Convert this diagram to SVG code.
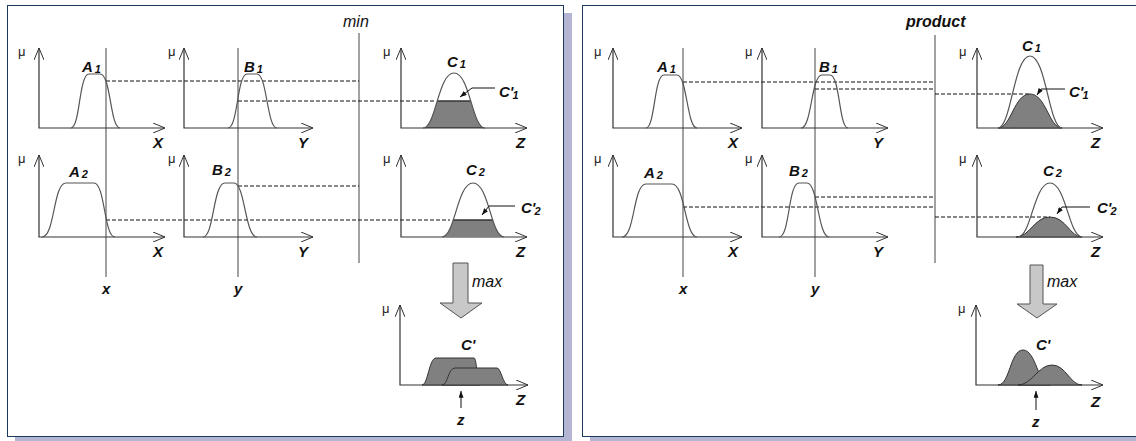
<svg xmlns="http://www.w3.org/2000/svg" width="1136" height="441" viewBox="0 0 1136 441">
<style>
.ax{fill:none;stroke:#333;stroke-width:1.2}
.cv{fill:none;stroke:#555;stroke-width:1.2}
.vl{stroke:#444;stroke-width:1}
.ds{stroke:#111;stroke-width:1;stroke-dasharray:4 2}
.sh{fill:#808080;stroke:#333;stroke-width:1}
.mu{font-family:"Liberation Sans",Arial,sans-serif;font-size:13px;fill:#222}
.lab{font-family:"Liberation Sans",Arial,sans-serif;font-size:15px;font-style:italic;font-weight:bold;fill:#111}
.sub{font-size:11px}
.op{font-family:"Liberation Sans",Arial,sans-serif;font-size:16px;font-style:italic;fill:#111}
.bar{fill:#c8c8c8;stroke:#555;stroke-width:1}
.ld{fill:none;stroke:#111;stroke-width:1}
</style>
<defs>
<marker id="oa" viewBox="0 0 12 10" refX="12" refY="5" markerWidth="12" markerHeight="10" orient="auto-start-reverse" markerUnits="userSpaceOnUse"><path d="M0,0 L12,5 L0,10" fill="none" stroke="#333" stroke-width="1"/></marker>
<marker id="fa" viewBox="0 0 8 6" refX="8" refY="3" markerWidth="7" markerHeight="5" orient="auto" markerUnits="userSpaceOnUse"><path d="M0,0 L8,3 L0,6 Z" fill="#111"/></marker>
<clipPath id="cl1"><path d="M423 128 C436 128 438 73 454 73 C470 73 472 128 485 128 Z"/></clipPath>
<clipPath id="cl2"><path d="M442 237 C455 237 457 183 473 183 C489 183 491 237 504 237 Z"/></clipPath>
</defs>

<g id="panel-min">
<rect x="15" y="13" width="557" height="432" fill="#b3b5d3"/>
<rect x="7.5" y="5.5" width="556" height="431" fill="#fff" stroke="#1c3a5e" stroke-width="1"/>
</g>
<g id="panel-product">
<rect x="590" y="13" width="560" height="432" fill="#b3b5d3"/>
<rect x="582.5" y="5.5" width="560" height="431" fill="#fff" stroke="#1c3a5e" stroke-width="1"/>
</g>

<g id="connectors">
<line class="vl" x1="106" y1="48" x2="106" y2="277"/>
<line class="vl" x1="238" y1="48" x2="238" y2="277"/>
<line class="vl" x1="359" y1="33" x2="359" y2="263"/>
<line class="ds" x1="106" y1="81" x2="359" y2="81"/>
<line class="ds" x1="238" y1="101" x2="434" y2="101"/>
<line class="ds" x1="238" y1="186" x2="359" y2="186"/>
<line class="ds" x1="106" y1="220" x2="450" y2="220"/>
<line class="vl" x1="683" y1="48" x2="683" y2="277"/>
<line class="vl" x1="815" y1="48" x2="815" y2="277"/>
<line class="vl" x1="935" y1="35" x2="935" y2="263"/>
<line class="ds" x1="683" y1="82" x2="935" y2="82"/>
<line class="ds" x1="815" y1="89" x2="935" y2="89"/>
<line class="ds" x1="935" y1="94" x2="1030" y2="94"/>
<line class="ds" x1="815" y1="197" x2="935" y2="197"/>
<line class="ds" x1="683" y1="207" x2="935" y2="207"/>
<line class="ds" x1="935" y1="217" x2="1050" y2="217"/>
</g>

<text class="op" x="343" y="27">min</text>
<text class="op" x="906" y="27" font-weight="bold" font-size="15">product</text>

<g id="A1-min">
<path class="ax" d="M39 48 L39 128 L165 128" marker-start="url(#oa)" marker-end="url(#oa)"/>
<text class="mu" x="18" y="56">μ</text>
<path class="cv" d="M71 128 C80 128 79 74 89 74 L100 74 C111 74 110 128 120 128"/>
<text class="lab" x="82" y="72">A<tspan class="sub" dx="2" dy="1">1</tspan></text>
<text class="lab" x="153" y="148">X</text>
</g>
<g id="B1-min">
<path class="ax" d="M184 48 L184 128 L313 128" marker-start="url(#oa)" marker-end="url(#oa)"/>
<text class="mu" x="168" y="56">μ</text>
<path class="cv" d="M228 128 C238 128 237 74 247 74 L257 74 C267 74 267 128 277 128"/>
<text class="lab" x="244" y="72">B<tspan class="sub" dx="2" dy="1">1</tspan></text>
<text class="lab" x="298" y="148">Y</text>
</g>
<g id="C1-min">
<path class="ax" d="M401 48 L401 128 L527 128" marker-start="url(#oa)" marker-end="url(#oa)"/>
<text class="mu" x="383" y="56">μ</text>
<rect x="410" y="101" width="90" height="27" fill="#808080" clip-path="url(#cl1)"/>
<line x1="410" y1="101" x2="500" y2="101" stroke="#333" stroke-width="1.5" clip-path="url(#cl1)"/>
<path d="M410 128 L500 128" stroke="#333" stroke-width="1.5" clip-path="url(#cl1)"/>
<path class="cv" d="M423 128 C436 128 438 73 454 73 C470 73 472 128 485 128"/>
<text class="lab" x="447" y="67">C<tspan class="sub" dx="2" dy="1">1</tspan></text>
<path class="ld" d="M495 88 L472 88 L460 97" marker-end="url(#fa)"/>
<text class="lab" x="499" y="97">C'<tspan class="sub" dx="-1" dy="2">1</tspan></text>
<text class="lab" x="516" y="148">Z</text>
</g>
<g id="A2-min">
<path class="ax" d="M39 155 L39 237 L165 237" marker-start="url(#oa)" marker-end="url(#oa)"/>
<text class="mu" x="18" y="163">μ</text>
<path class="cv" d="M42 237 C55 237 53 183 66 183 L94 183 C105 183 104 237 115 237"/>
<text class="lab" x="69" y="177">A<tspan class="sub" dx="2" dy="1">2</tspan></text>
<text class="lab" x="153" y="257">X</text>
</g>
<g id="B2-min">
<path class="ax" d="M184 155 L184 237 L313 237" marker-start="url(#oa)" marker-end="url(#oa)"/>
<text class="mu" x="168" y="163">μ</text>
<path class="cv" d="M203 237 C214 237 213 183 225 183 L234 183 C245 183 245 237 257 237"/>
<text class="lab" x="212" y="175">B<tspan class="sub" dx="2" dy="1">2</tspan></text>
<text class="lab" x="298" y="257">Y</text>
</g>
<g id="C2-min">
<path class="ax" d="M401 155 L401 237 L527 237" marker-start="url(#oa)" marker-end="url(#oa)"/>
<text class="mu" x="383" y="163">μ</text>
<rect x="430" y="220" width="90" height="17" fill="#808080" clip-path="url(#cl2)"/>
<line x1="430" y1="220" x2="520" y2="220" stroke="#333" stroke-width="1.5" clip-path="url(#cl2)"/>
<path class="cv" d="M442 237 C455 237 457 183 473 183 C489 183 491 237 504 237"/>
<text class="lab" x="466" y="175">C<tspan class="sub" dx="2" dy="1">2</tspan></text>
<path class="ld" d="M515 206 L489 206 L482 215" marker-end="url(#fa)"/>
<text class="lab" x="521" y="213">C'<tspan class="sub" dx="-1" dy="2">2</tspan></text>
<text class="lab" x="516" y="257">Z</text>
</g>
<g id="inputs-min">
<text class="lab" x="102" y="294">x</text>
<text class="lab" x="234" y="294">y</text>
</g>
<g id="max-min">
<polygon class="bar" points="453,263 468,263 468,303 482,303 461,318 440,303 453,303"/>
<text class="op" x="472" y="287">max</text>
</g>
<g id="out-min">
<path class="ax" d="M400 305 L400 385 L528 385" marker-start="url(#oa)" marker-end="url(#oa)"/>
<text class="mu" x="382" y="313">μ</text>
<path class="sh" d="M422 385 C428 385 429 358 436 358 L474 358 C477 358 477 385 480 385 Z"/>
<path class="sh" d="M442 385 C448 385 448 368 455 368 L497 368 C501 368 503 385 508 385 Z"/>
<text class="lab" x="461" y="350" font-size="14">C'</text>
<line class="ld" x1="461" y1="408" x2="461" y2="391" marker-end="url(#fa)"/>
<text class="lab" x="457" y="425">z</text>
<text class="lab" x="516" y="405">Z</text>
</g>

<g id="A1-prod">
<path class="ax" d="M613 48 L613 128 L742 128" marker-start="url(#oa)" marker-end="url(#oa)"/>
<text class="mu" x="594" y="56">μ</text>
<path class="cv" d="M646 128 C655 128 654 75 664 75 L677 75 C687 75 687 128 697 128"/>
<text class="lab" x="657" y="72">A<tspan class="sub" dx="2" dy="1">1</tspan></text>
<text class="lab" x="728" y="148">X</text>
</g>
<g id="B1-prod">
<path class="ax" d="M762 48 L762 128 L888 128" marker-start="url(#oa)" marker-end="url(#oa)"/>
<text class="mu" x="745" y="56">μ</text>
<path class="cv" d="M801 128 C812 128 811 75 822 75 L830 75 C840 75 839 128 848 128"/>
<text class="lab" x="819" y="72">B<tspan class="sub" dx="2" dy="1">1</tspan></text>
<text class="lab" x="873" y="148">Y</text>
</g>
<g id="C1-prod">
<path class="ax" d="M977 48 L977 128 L1103 128" marker-start="url(#oa)" marker-end="url(#oa)"/>
<text class="mu" x="959" y="56">μ</text>
<path class="sh" d="M998 128 C1011 128 1014 94 1030 94 C1046 94 1049 128 1062 128 Z"/>
<path class="cv" d="M998 128 C1011 128 1014 56 1030 56 C1046 56 1049 128 1062 128"/>
<text class="lab" x="1022" y="51">C<tspan class="sub" dx="2" dy="1">1</tspan></text>
<path class="ld" d="M1065 89 L1041 89 L1037 95" marker-end="url(#fa)"/>
<text class="lab" x="1069" y="97">C'<tspan class="sub" dx="-1" dy="2">1</tspan></text>
<text class="lab" x="1091" y="148">Z</text>
</g>
<g id="A2-prod">
<path class="ax" d="M613 155 L613 237 L742 237" marker-start="url(#oa)" marker-end="url(#oa)"/>
<text class="mu" x="594" y="163">μ</text>
<path class="cv" d="M622 237 C635 237 633 184 646 184 L672 184 C685 184 685 237 697 237"/>
<text class="lab" x="644" y="178">A<tspan class="sub" dx="2" dy="1">2</tspan></text>
<text class="lab" x="728" y="257">X</text>
</g>
<g id="B2-prod">
<path class="ax" d="M762 155 L762 237 L888 237" marker-start="url(#oa)" marker-end="url(#oa)"/>
<text class="mu" x="745" y="163">μ</text>
<path class="cv" d="M779 237 C790 237 788 183 799 183 L807 183 C818 183 818 237 829 237"/>
<text class="lab" x="789" y="176">B<tspan class="sub" dx="2" dy="1">2</tspan></text>
<text class="lab" x="873" y="257">Y</text>
</g>
<g id="C2-prod">
<path class="ax" d="M977 155 L977 237 L1103 237" marker-start="url(#oa)" marker-end="url(#oa)"/>
<text class="mu" x="959" y="163">μ</text>
<path class="sh" d="M1016 237 C1030 237 1034 217 1050 217 C1066 217 1070 237 1082 237 Z"/>
<path class="cv" d="M1018 237 C1031 237 1034 183 1050 183 C1066 183 1069 237 1082 237"/>
<text class="lab" x="1043" y="176">C<tspan class="sub" dx="2" dy="1">2</tspan></text>
<path class="ld" d="M1090 207 L1062 207 L1057 214" marker-end="url(#fa)"/>
<text class="lab" x="1097" y="213">C'<tspan class="sub" dx="-1" dy="2">2</tspan></text>
<text class="lab" x="1091" y="257">Z</text>
</g>
<g id="inputs-prod">
<text class="lab" x="679" y="294">x</text>
<text class="lab" x="811" y="294">y</text>
</g>
<g id="max-prod">
<polygon class="bar" points="1030,265 1043,265 1043,304 1057,304 1037,318 1017,304 1030,304"/>
<text class="op" x="1047" y="287">max</text>
</g>
<g id="out-prod">
<path class="ax" d="M976 305 L976 385 L1103 385" marker-start="url(#oa)" marker-end="url(#oa)"/>
<text class="mu" x="958" y="313">μ</text>
<path class="sh" d="M998 385 C1010 385 1010 350 1023 350 C1036 350 1038 385 1050 385 Z"/>
<path class="sh" d="M1018 385 C1032 385 1038 365 1052 365 C1066 365 1070 385 1082 385 Z"/>
<text class="lab" x="1036" y="350" font-size="14">C'</text>
<line class="ld" x1="1036" y1="410" x2="1036" y2="391" marker-end="url(#fa)"/>
<text class="lab" x="1032" y="427">z</text>
<text class="lab" x="1091" y="407">Z</text>
</g>
</svg>
